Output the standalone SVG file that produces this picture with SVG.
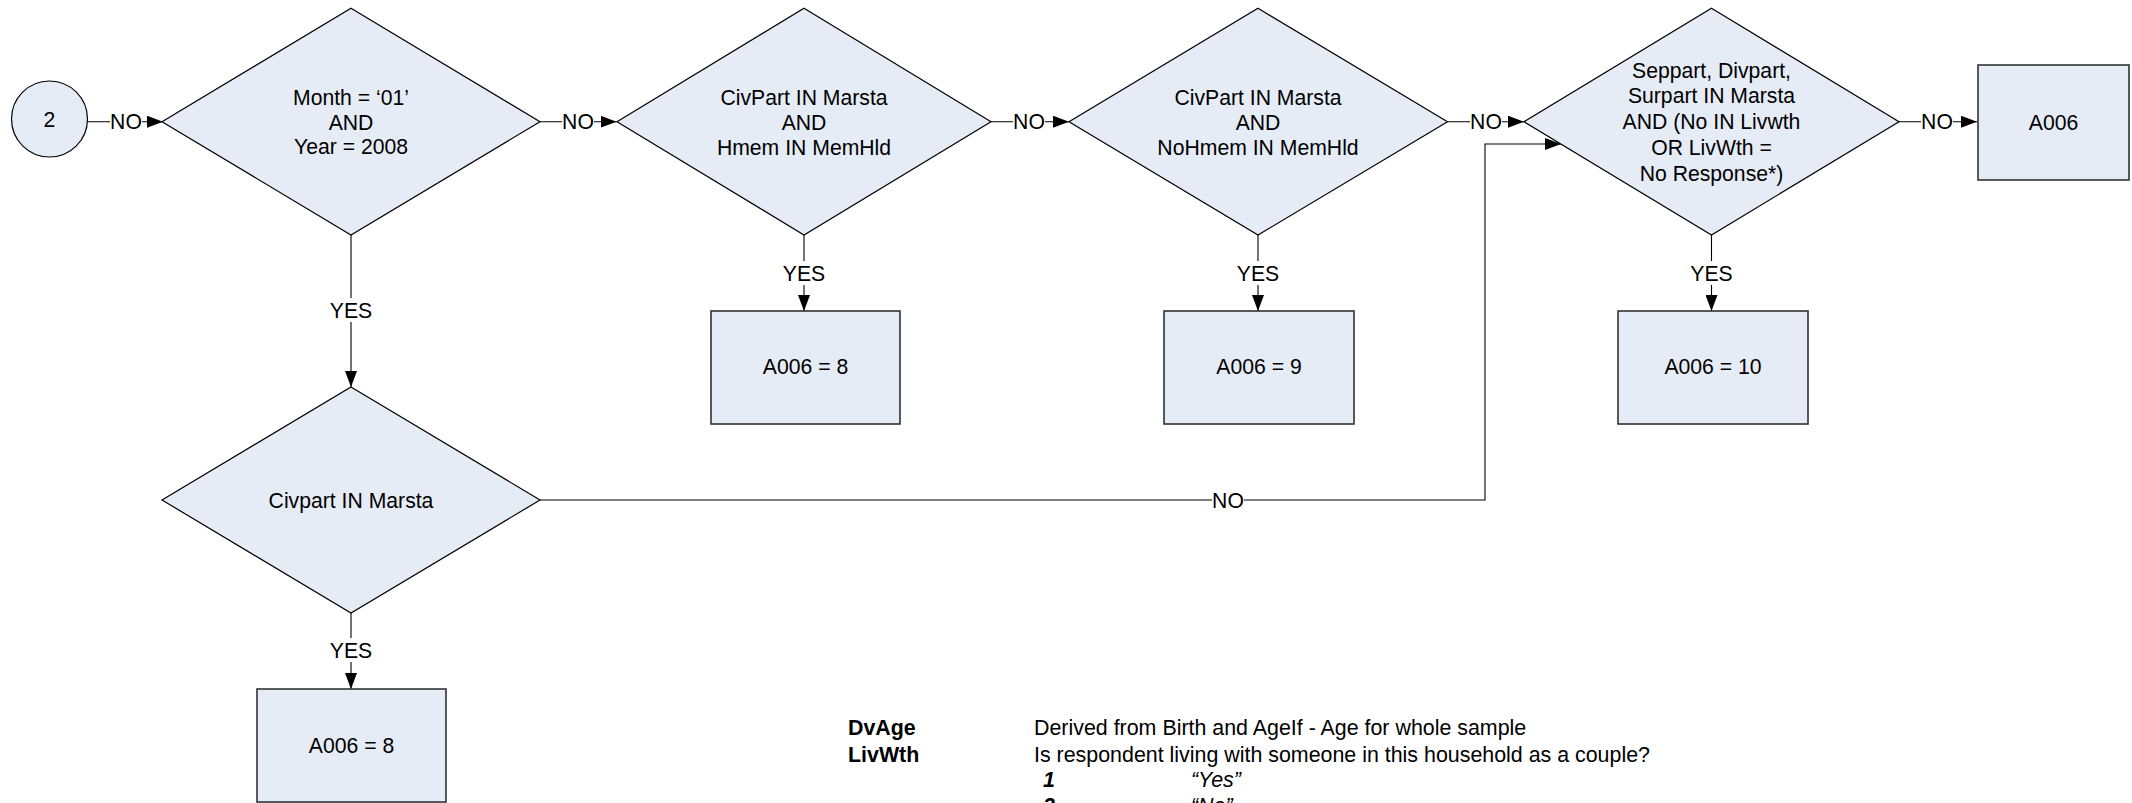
<svg xmlns="http://www.w3.org/2000/svg" width="2132" height="803" viewBox="0 0 2132 803">
<defs>
<style>
.shape{fill:#E6ECF6;stroke:#000;stroke-width:1.2}
.box{fill:#E6ECF6;stroke:#333;stroke-width:1.6}
.t{font-family:"Liberation Sans",Arial,sans-serif;font-size:21.2px;fill:#000;text-anchor:middle}
.lg{font-family:"Liberation Sans",Arial,sans-serif;font-size:21.4px;fill:#000}
.b{font-weight:bold}
.i{font-style:italic}
.c{fill:none;stroke:#000;stroke-width:1.1}
.lbl{fill:#fff}
</style>
<marker id="ah" viewBox="0 0 16 12" refX="16" refY="6" markerWidth="16" markerHeight="12" markerUnits="userSpaceOnUse" orient="auto">
<path d="M0,0 L16,6 L0,12 Z" fill="#000"/>
</marker>
</defs>
<rect width="2132" height="803" fill="#fff"/>
<g id="connectors">
<path class="c" d="M88,121.7 H163" marker-end="url(#ah)"/>
<path class="c" d="M540,121.7 H616.6" marker-end="url(#ah)"/>
<path class="c" d="M991,121.7 H1069" marker-end="url(#ah)"/>
<path class="c" d="M1447.5,121.7 H1524" marker-end="url(#ah)"/>
<path class="c" d="M1899,121.7 H1977" marker-end="url(#ah)"/>
<path class="c" d="M351,235 V387" marker-end="url(#ah)"/>
<path class="c" d="M804,235 V311" marker-end="url(#ah)"/>
<path class="c" d="M1258,235 V311" marker-end="url(#ah)"/>
<path class="c" d="M1711.5,235 V311" marker-end="url(#ah)"/>
<path class="c" d="M351,613 V689" marker-end="url(#ah)"/>
<path class="c" d="M540,500 H1485 V144 H1561" marker-end="url(#ah)"/>
<rect class="lbl" x="110" y="110" width="32" height="24"/>
<text class="t" x="126" y="129">NO</text>
<rect class="lbl" x="562" y="110" width="32" height="24"/>
<text class="t" x="578" y="129">NO</text>
<rect class="lbl" x="1013" y="110" width="32" height="24"/>
<text class="t" x="1029" y="129">NO</text>
<rect class="lbl" x="1470" y="110" width="32" height="24"/>
<text class="t" x="1486" y="129">NO</text>
<rect class="lbl" x="1921" y="110" width="32" height="24"/>
<text class="t" x="1937" y="129">NO</text>
<rect class="lbl" x="1212" y="488" width="32" height="24"/>
<text class="t" x="1228" y="507.5">NO</text>
<rect class="lbl" x="330" y="298" width="42" height="24"/>
<text class="t" x="351" y="317.5">YES</text>
<rect class="lbl" x="783" y="261" width="42" height="24"/>
<text class="t" x="804" y="281">YES</text>
<rect class="lbl" x="1237" y="261" width="42" height="24"/>
<text class="t" x="1258" y="281">YES</text>
<rect class="lbl" x="1690" y="261" width="42" height="24"/>
<text class="t" x="1711.5" y="281">YES</text>
<rect class="lbl" x="330" y="638" width="42" height="24"/>
<text class="t" x="351" y="657.5">YES</text>
</g>
<g id="start">
<circle class="shape" cx="49.5" cy="119" r="38"/>
<text class="t" x="49.5" y="126.5">2</text>
</g>
<g id="d1">
<polygon class="shape" points="351,8.3 540,121.7 351,235 162,121.7"/>
<text class="t" x="351" y="105">Month = ‘01’</text>
<text class="t" x="351" y="129.5">AND</text>
<text class="t" x="351" y="154">Year = 2008</text>
</g>
<g id="d2">
<polygon class="shape" points="804,8.3 991,121.7 804,235 617,121.7"/>
<text class="t" x="804" y="104.5">CivPart IN Marsta</text>
<text class="t" x="804" y="129.5">AND</text>
<text class="t" x="804" y="154.5">Hmem IN MemHld</text>
</g>
<g id="d3">
<polygon class="shape" points="1258,8.3 1447.5,121.7 1258,235 1069,121.7"/>
<text class="t" x="1258" y="104.5">CivPart IN Marsta</text>
<text class="t" x="1258" y="129.5">AND</text>
<text class="t" x="1258" y="154.5">NoHmem IN MemHld</text>
</g>
<g id="d4">
<polygon class="shape" points="1711.5,8.3 1899,121.7 1711.5,235 1524,121.7"/>
<text class="t" x="1711.5" y="77.5">Seppart, Divpart,</text>
<text class="t" x="1711.5" y="103">Surpart IN Marsta</text>
<text class="t" x="1711.5" y="129">AND (No IN Livwth</text>
<text class="t" x="1711.5" y="155">OR LivWth =</text>
<text class="t" x="1711.5" y="180.5">No Response*)</text>
</g>
<g id="a006">
<rect class="box" x="1978" y="65" width="151" height="115"/>
<text class="t" x="2053.5" y="129.5">A006</text>
</g>
<g id="r8">
<rect class="box" x="711" y="311" width="189" height="113"/>
<text class="t" x="805.5" y="374">A006 = 8</text>
</g>
<g id="r9">
<rect class="box" x="1164" y="311" width="190" height="113"/>
<text class="t" x="1259" y="374">A006 = 9</text>
</g>
<g id="r10">
<rect class="box" x="1618" y="311" width="190" height="113"/>
<text class="t" x="1713" y="374">A006 = 10</text>
</g>
<g id="d5">
<polygon class="shape" points="351,387 540,500 351,613 162,500"/>
<text class="t" x="351" y="507.5">Civpart IN Marsta</text>
</g>
<g id="r8b">
<rect class="box" x="257" y="689" width="189" height="113"/>
<text class="t" x="351.5" y="753">A006 = 8</text>
</g>
<g id="legend">
<text class="lg b" x="848" y="735">DvAge</text>
<text class="lg" x="1034" y="735">Derived from Birth and AgeIf - Age for whole sample</text>
<text class="lg b" x="848" y="761.5">LivWth</text>
<text class="lg" x="1034" y="761.5">Is respondent living with someone in this household as a couple?</text>
<text class="lg b i" x="1043" y="787">1</text>
<text class="lg i" x="1191" y="787">“Yes”</text>
<text class="lg b i" x="1043" y="813">2</text>
<text class="lg i" x="1191" y="813">“No”</text>
</g>
</svg>
